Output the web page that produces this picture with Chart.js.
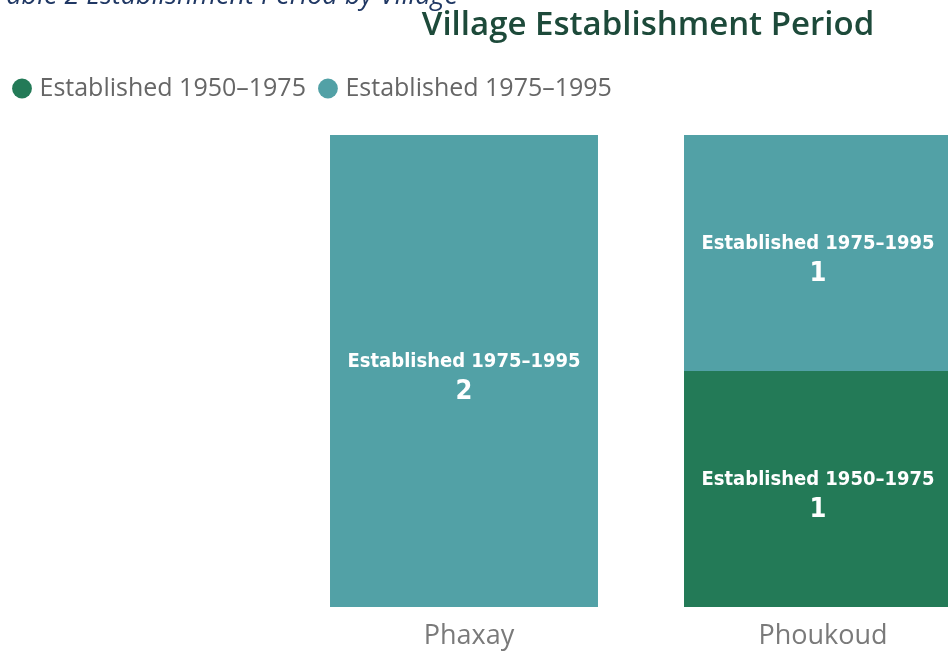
<!DOCTYPE html>
<html>
<head>
<meta charset="utf-8">
<script src="https://cdn.jsdelivr.net/npm/chart.js@4.4.1/dist/chart.umd.min.js"></script>
<style>
html,body{margin:0;padding:0;background:#fff;overflow:hidden;width:948px;height:655px;}
#wrap{position:absolute;left:0;top:0;width:995px;height:655px;}
</style>
</head>
<body>
<div id="wrap"><canvas id="c" width="995" height="655"></canvas></div>
<script>
// ---- data ----
const captionText = 'Table 2 Establishment Period by Village';
const titleText = 'Village Establishment Period';
const villages = ['Phaxay', 'Phoukoud'];
const seriesNames = ['Established 1950–1975', 'Established 1975–1995'];
const established1950to1975 = [null, 1];
const established1975to1995 = [2, 1];
const seriesColors = ['#237a57', '#52a1a6'];

// ---- plugins ----
const headerText = {
  id: 'headerText',
  afterDraw(chart) {
    const ctx = chart.ctx;
    ctx.save();
    ctx.textBaseline = 'alphabetic';
    ctx.fillStyle = '#203864';
    ctx.font = 'italic 27px "Open Sans"';
    ctx.textAlign = 'right';
    ctx.fillText(captionText, 458, 4);
    ctx.fillStyle = '#1d4a3a';
    ctx.font = '600 33px "Open Sans"';
    ctx.textAlign = 'center';
    ctx.fillText(titleText, 648, 35);
    ctx.restore();
  }
};

const legendSpacer = {
  id: 'legendSpacer',
  beforeInit(chart) {
    const origFit = chart.legend.fit;
    chart.legend.fit = function () {
      origFit.call(this);
      this.height += 24;
    };
  }
};

const barLabels = {
  id: 'barLabels',
  afterDatasetsDraw(chart) {
    const ctx = chart.ctx;
    chart.data.datasets.forEach((ds, di) => {
      const meta = chart.getDatasetMeta(di);
      meta.data.forEach((el, i) => {
        const v = ds.data[i];
        if (v == null || v === 0) return;
        const cy = (el.y + el.base) / 2;
        ctx.save();
        ctx.fillStyle = '#ffffff';
        ctx.textAlign = 'center';
        ctx.textBaseline = 'middle';
        ctx.font = 'bold 20px "DejaVu Sans Condensed"';
        ctx.fillText(ds.label, el.x, cy - 9);
        ctx.font = 'bold 27px "DejaVu Sans Condensed"';
        ctx.fillText(String(v), el.x, cy + 21);
        ctx.restore();
      });
    });
  }
};

function build() {
  new Chart(document.getElementById('c'), {
    type: 'bar',
    data: {
      labels: villages,
      datasets: [
        { label: seriesNames[0], data: established1950to1975, backgroundColor: seriesColors[0],
          categoryPercentage: 1, barPercentage: 0.757, borderWidth: 0 },
        { label: seriesNames[1], data: established1975to1995, backgroundColor: seriesColors[1],
          categoryPercentage: 1, barPercentage: 0.757, borderWidth: 0 }
      ]
    },
    options: {
      responsive: false,
      animation: false,
      layout: { padding: { top: 59, left: 0, right: 0, bottom: 0 } },
      plugins: {
        legend: {
          position: 'top',
          align: 'start',
          labels: {
            usePointStyle: true,
            pointStyle: 'circle',
            boxWidth: 10,
            boxHeight: 14,
            padding: 17,
            color: '#666666',
            font: { family: '"Open Sans"', size: 25 }
          }
        },
        title: { display: false },
        tooltip: { enabled: false }
      },
      scales: {
        x: {
          stacked: true,
          grid: { display: false, drawTicks: false },
          border: { display: false },
          ticks: { color: '#7a7a7a', padding: 13, labelOffset: 5, font: { family: '"Open Sans"', size: 27 } },
          afterFit(scale) { scale.height = 48; }
        },
        y: {
          stacked: true,
          min: 0,
          max: 2,
          grid: { display: false, drawTicks: false },
          border: { display: false },
          ticks: { display: false },
          afterFit(scale) { scale.width = 287; }
        }
      }
    },
    plugins: [legendSpacer, barLabels, headerText]
  });
}

Promise.all([
  document.fonts.load('22px "Open Sans"'),
  document.fonts.load('italic 24px "Open Sans"'),
  document.fonts.load('600 30px "Open Sans"'),
  document.fonts.load('bold 18px "DejaVu Sans Condensed"')
]).then(build, build);
</script>
</body>
</html>
